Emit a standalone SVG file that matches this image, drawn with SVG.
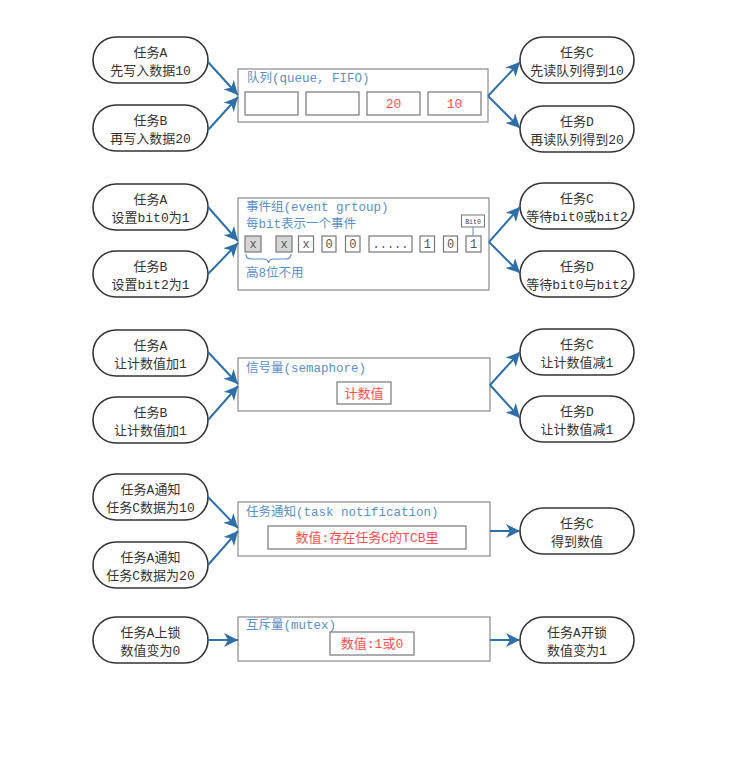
<svg xmlns="http://www.w3.org/2000/svg" width="734" height="758" viewBox="0 0 734 758">
<style>
text{font-family:"Liberation Mono","Noto Sans CJK SC",monospace;}
.node rect{fill:#fff;stroke:#333;stroke-width:1.6;}
.nt{font-size:13px;fill:#333;text-anchor:middle;}
.box{fill:#fff;stroke:#8a8a8a;stroke-width:1.2;}
.title{font-size:12.5px;fill:#5b8fc7;}
.cell{fill:#fff;stroke:#777;stroke-width:1.2;}
.gcell{fill:#d6d6d6;stroke:#777;stroke-width:1.2;}
.ct{font-size:13px;fill:#ff4d4d;text-anchor:middle;}
.bt{font-size:12px;fill:#555;text-anchor:middle;}
.conn line{stroke:#2f6fa8;stroke-width:2;fill:none;marker-end:url(#ah);}
</style>
<defs>
<marker id="ah" markerUnits="userSpaceOnUse" markerWidth="16" markerHeight="14" refX="14" refY="7" orient="auto">
<path d="M0,0 L14,7 L0,14 L4,7 Z" fill="#2f6fa8"/>
</marker>
</defs>
<rect width="734" height="758" fill="#fff"/>

<!-- Section 1: queue -->
<g id="queue">
<rect class="box" x="238" y="69" width="250" height="53"/>
<text class="title" x="247" y="82">队列(queue, FIFO)</text>
<rect class="cell" x="245" y="92" width="53" height="23"/>
<rect class="cell" x="306" y="92" width="53" height="23"/>
<rect class="cell" x="367" y="92" width="53" height="23"/>
<rect class="cell" x="428" y="92" width="53" height="23"/>
<text class="ct" x="393.5" y="108">20</text>
<text class="ct" x="454.5" y="108">10</text>
</g>
<g id="q_a" class="node"><rect x="93" y="37" width="115" height="46" rx="23"/><text class="nt" x="150.5" y="57">任务A</text><text class="nt" x="150.5" y="75">先写入数据10</text></g>
<g id="q_b" class="node"><rect x="93" y="105" width="115" height="46" rx="23"/><text class="nt" x="150.5" y="125">任务B</text><text class="nt" x="150.5" y="143">再写入数据20</text></g>
<g id="q_c" class="node"><rect x="520" y="37" width="114" height="46" rx="23"/><text class="nt" x="577" y="57">任务C</text><text class="nt" x="577" y="75">先读队列得到10</text></g>
<g id="q_d" class="node"><rect x="520" y="106" width="114" height="46" rx="23"/><text class="nt" x="577" y="126">任务D</text><text class="nt" x="577" y="144">再读队列得到20</text></g>

<!-- Section 2: event group -->
<g id="eventgroup">
<rect class="box" x="238" y="198" width="251" height="92"/>
<text class="title" x="246" y="211">事件组(event grtoup)</text>
<text class="title" x="246" y="228">每bit表示一个事件</text>
<rect class="gcell" x="245" y="236" width="16" height="16"/>
<rect class="gcell" x="276" y="236" width="16" height="16"/>
<rect class="cell" x="298.5" y="236" width="15" height="16"/>
<rect class="cell" x="322" y="236" width="14" height="16"/>
<rect class="cell" x="345.5" y="236" width="14.5" height="16"/>
<rect class="cell" x="369" y="236" width="43" height="16"/>
<rect class="cell" x="420" y="236" width="14.5" height="16"/>
<rect class="cell" x="443.5" y="236" width="14" height="16"/>
<rect class="cell" x="466" y="236" width="15" height="16"/>
<text class="bt" x="253" y="248">x</text>
<text class="bt" x="284" y="248">x</text>
<text class="bt" x="306" y="248">x</text>
<text class="bt" x="329" y="248">0</text>
<text class="bt" x="352.8" y="248">0</text>
<text class="bt" x="390.5" y="248">.....</text>
<text class="bt" x="427.3" y="248">1</text>
<text class="bt" x="450.5" y="248">0</text>
<text class="bt" x="473.5" y="248">1</text>
<rect x="461.5" y="215" width="23" height="12" fill="#fff" stroke="#777" stroke-width="1"/>
<text x="473" y="224" font-size="6.5" fill="#444" text-anchor="middle">Bit0</text>
<line x1="473" y1="227" x2="473" y2="236" stroke="#5b8fc7" stroke-width="1"/>
<path d="M246,254 Q246,259 251,259 L263,259 Q268,259 268.5,263 Q269,259 274,259 L286,259 Q291,259 291,254" fill="none" stroke="#5b8fc7" stroke-width="1.2"/>
<text class="title" x="246" y="277" font-size="13">高8位不用</text>
</g>
<g id="e_a" class="node"><rect x="93" y="184" width="115" height="46" rx="23"/><text class="nt" x="150.5" y="204">任务A</text><text class="nt" x="150.5" y="222">设置bit0为1</text></g>
<g id="e_b" class="node"><rect x="93" y="251" width="115" height="46" rx="23"/><text class="nt" x="150.5" y="271">任务B</text><text class="nt" x="150.5" y="289">设置bit2为1</text></g>
<g id="e_c" class="node"><rect x="520" y="183" width="114" height="46" rx="23"/><text class="nt" x="577" y="203">任务C</text><text class="nt" x="577" y="221">等待bit0或bit2</text></g>
<g id="e_d" class="node"><rect x="520" y="251" width="114" height="46" rx="23"/><text class="nt" x="577" y="271">任务D</text><text class="nt" x="577" y="289">等待bit0与bit2</text></g>

<!-- Section 3: semaphore -->
<g id="semaphore">
<rect class="box" x="238" y="358" width="252" height="53"/>
<text class="title" x="246" y="372">信号量(semaphore)</text>
<rect class="cell" x="337" y="382" width="54" height="22"/>
<text class="ct" x="364" y="398">计数值</text>
</g>
<g id="s_a" class="node"><rect x="93" y="330" width="115" height="46" rx="23"/><text class="nt" x="150.5" y="350">任务A</text><text class="nt" x="150.5" y="368">让计数值加1</text></g>
<g id="s_b" class="node"><rect x="93" y="397" width="115" height="46" rx="23"/><text class="nt" x="150.5" y="417">任务B</text><text class="nt" x="150.5" y="435">让计数值加1</text></g>
<g id="s_c" class="node"><rect x="520" y="329" width="114" height="46" rx="23"/><text class="nt" x="577" y="349">任务C</text><text class="nt" x="577" y="367">让计数值减1</text></g>
<g id="s_d" class="node"><rect x="520" y="396" width="114" height="46" rx="23"/><text class="nt" x="577" y="416">任务D</text><text class="nt" x="577" y="434">让计数值减1</text></g>

<!-- Section 4: task notification -->
<g id="notify">
<rect class="box" x="238" y="502" width="252" height="54"/>
<text class="title" x="246" y="516">任务通知(task notification)</text>
<rect class="cell" x="268" y="526" width="198" height="23"/>
<text class="ct" x="367" y="542">数值:存在任务C的TCB里</text>
</g>
<g id="n_a" class="node"><rect x="93" y="474" width="115" height="46" rx="23"/><text class="nt" x="150.5" y="494">任务A通知</text><text class="nt" x="150.5" y="512">任务C数据为10</text></g>
<g id="n_b" class="node"><rect x="93" y="542" width="115" height="46" rx="23"/><text class="nt" x="150.5" y="562">任务A通知</text><text class="nt" x="150.5" y="580">任务C数据为20</text></g>
<g id="n_c" class="node"><rect x="520" y="508" width="114" height="46" rx="23"/><text class="nt" x="577" y="528">任务C</text><text class="nt" x="577" y="546">得到数值</text></g>

<!-- Section 5: mutex -->
<g id="mutex">
<rect class="box" x="238" y="617" width="252" height="44"/>
<text class="title" x="246" y="629">互斥量(mutex)</text>
<rect class="cell" x="330" y="632" width="84" height="23"/>
<text class="ct" x="372" y="648">数值:1或0</text>
</g>
<g id="m_a" class="node"><rect x="93" y="617" width="115" height="46" rx="23"/><text class="nt" x="150.5" y="637">任务A上锁</text><text class="nt" x="150.5" y="655">数值变为0</text></g>
<g id="m_b" class="node"><rect x="520" y="617" width="114" height="46" rx="23"/><text class="nt" x="577" y="637">任务A开锁</text><text class="nt" x="577" y="655">数值变为1</text></g>

<g id="connectors" class="conn">
<line x1="208" y1="62" x2="238" y2="95"/>
<line x1="208" y1="130" x2="238" y2="97"/>
<line x1="488" y1="96" x2="520" y2="62"/>
<line x1="488" y1="96" x2="520" y2="128"/>
<line x1="208" y1="207" x2="238" y2="241"/>
<line x1="208" y1="274" x2="238" y2="243"/>
<line x1="489" y1="242" x2="520" y2="207"/>
<line x1="489" y1="242" x2="520" y2="273"/>
<line x1="208" y1="352" x2="238" y2="384"/>
<line x1="208" y1="420" x2="238" y2="386"/>
<line x1="490" y1="385" x2="520" y2="352"/>
<line x1="490" y1="385" x2="520" y2="418"/>
<line x1="208" y1="497" x2="238" y2="528"/>
<line x1="208" y1="565" x2="238" y2="531"/>
<line x1="490" y1="531" x2="520" y2="531"/>
<line x1="208" y1="640" x2="238" y2="640"/>
<line x1="490" y1="640" x2="520" y2="640"/>
</g>
</svg>
